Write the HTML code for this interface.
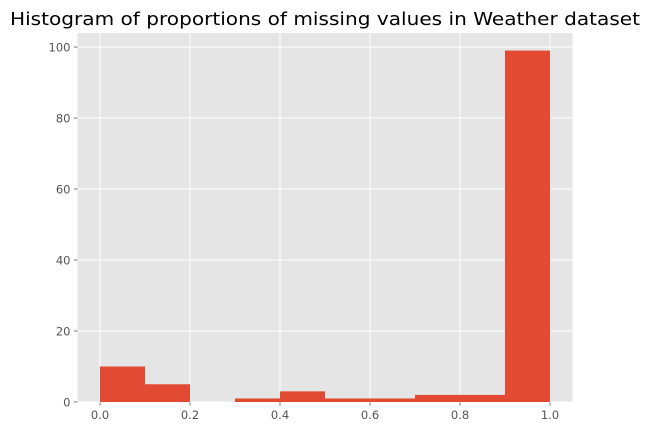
<!DOCTYPE html>
<html><head><meta charset="utf-8"><style>
body{margin:0;background:#fff;}
svg{display:block;font-family:"DejaVu Sans","Liberation Sans",sans-serif;}
</style></head><body>
<svg id="chart" width="650" height="436">
<text x="325" y="25" text-anchor="middle" font-size="17.5" fill="#000" textLength="630" lengthAdjust="spacingAndGlyphs">Histogram of proportions of missing values in Weather dataset</text>
<g id="plot"></g>
</svg>
<script>
const binEdges = [0,0.1,0.2,0.3,0.4,0.5,0.6,0.7,0.8,0.9,1.0];
const counts = [10,5,0,1,3,1,1,2,2,99];
const xTicks = [0.0,0.2,0.4,0.6,0.8,1.0];
const yTicks = [0,20,40,60,80,100];

const L=77.5,R=572.5,T=33,B=402;
const xmin=-0.05,xmax=1.05,ymax=Math.max(...counts)*1.05;
const x=v=>L+(v-xmin)/(xmax-xmin)*(R-L);
const y=v=>B-v/ymax*(B-T);
const NS="http://www.w3.org/2000/svg";
const g=document.getElementById('plot');
function mk(tag,attrs,parent){const e=document.createElementNS(NS,tag);for(const k in attrs)e.setAttribute(k,attrs[k]);(parent||g).appendChild(e);return e;}
const bg=mk('rect',{x:L,y:T,width:R-L,height:B-T,fill:'#e5e5e5'});


xTicks.forEach(t=>{
  const l=mk('line',{x1:x(t),x2:x(t),y1:T,y2:B,stroke:'#fff','stroke-width':1});
  
  
  mk('line',{x1:x(t),x2:x(t),y1:B,y2:B+3.5,stroke:'#555','stroke-width':0.8});
  const tx=mk('text',{x:x(t),y:B+17,'text-anchor':'middle','font-size':11.5,fill:'#555'});
  tx.textContent=t.toFixed(1);
  
  
});
yTicks.forEach(t=>{
  const l=mk('line',{x1:L,x2:R,y1:y(t),y2:y(t),stroke:'#fff','stroke-width':1});
  
  
  mk('line',{x1:L-3.5,x2:L,y1:y(t),y2:y(t),stroke:'#555','stroke-width':0.8});
  const tx=mk('text',{x:L-7,y:y(t)+4.5,'text-anchor':'end','font-size':11.5,fill:'#555'});
  tx.textContent=t;
  
  
});
counts.forEach((c,i)=>{
  if(c<=0)return;
  const r=mk('rect',{x:x(binEdges[i]),y:y(c),width:x(binEdges[i+1])-x(binEdges[i]),height:B-y(c),fill:'#e24a33'});
  
  
});
</script>
</body></html>
